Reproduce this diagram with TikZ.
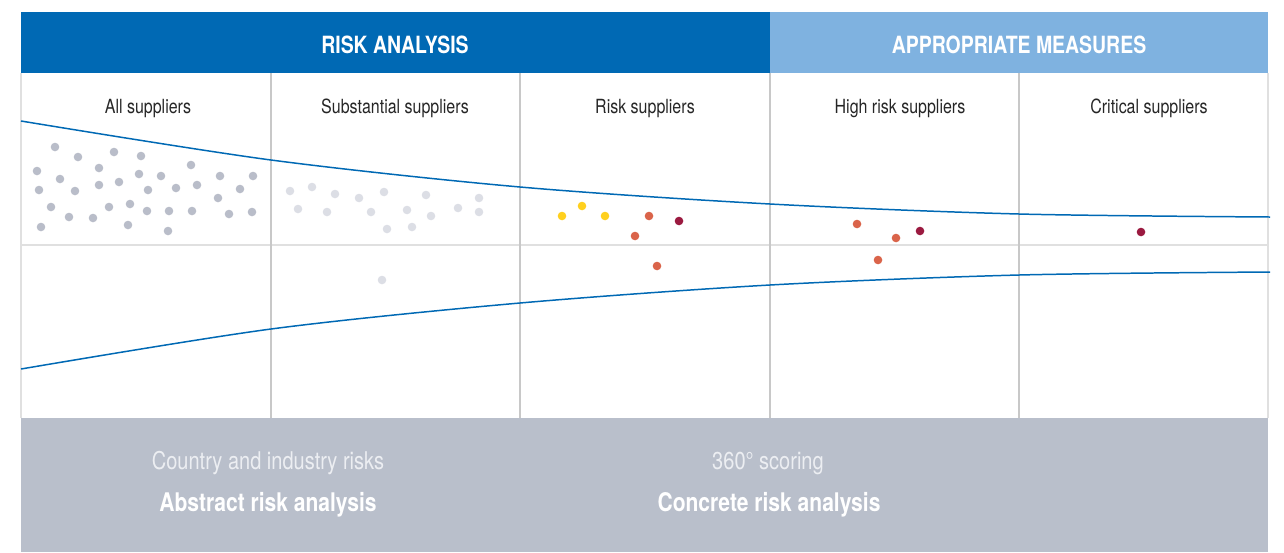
\documentclass[tikz,border=0pt]{standalone}
\usepackage{fontspec}
\setmainfont{TeX Gyre Heros}[FakeStretch=0.82]
\definecolor{darkblue}{RGB}{0,105,180}
\definecolor{lightblue}{RGB}{127,178,224}
\definecolor{bandgrey}{RGB}{185,191,203}
\definecolor{dotgrey}{RGB}{185,189,201}
\definecolor{dotlight}{RGB}{220,222,229}
\definecolor{riskyellow}{RGB}{255,208,30}
\definecolor{riskorange}{RGB}{218,100,74}
\definecolor{riskred}{RGB}{155,26,64}
\definecolor{gridgrey}{RGB}{200,200,200}
\definecolor{gridlight}{RGB}{224,224,224}
\definecolor{softwhite}{RGB}{236,238,242}

\begin{document}
\begin{tikzpicture}[x=0.02cm,y=-0.02cm,
    headtext/.style={anchor=base, font=\bfseries\fontsize{13.5}{16}\selectfont, text=white},
    coltext/.style={anchor=base, font=\fontsize{11.1}{13}\selectfont, text=black!85},
    bandtext/.style={anchor=base, font=\fontsize{13.9}{16}\selectfont, text=softwhite},
    bandbold/.style={anchor=base, font=\bfseries\fontsize{14.6}{17}\selectfont, text=white},
    curve/.style={darkblue, line width=0.85pt}]
    \useasboundingbox (0,0) rectangle (1284,552);

    % Header bars
    \fill[darkblue] (21,12) rectangle (770,73);
    \fill[lightblue] (770,12) rectangle (1268,73);
    \node[headtext] (riskanalysis) at (395,53.5) {RISK ANALYSIS};
    \node[headtext] (measures) at (1019,53.5) {APPROPRIATE MEASURES};

    % Bottom band
    \fill[bandgrey] (21,418) rectangle (1268,552);

    % Outer border and middle line
    \draw[gridlight, line width=0.6pt] (21,73) -- (21,418);
    \draw[gridlight, line width=0.6pt] (1268,73) -- (1268,418);
    \draw[gridlight, line width=0.6pt] (21,245) -- (1268,245);

    % Column dividers
    \foreach \x in {271,520,770,1019}
        \draw[gridgrey, line width=0.6pt] (\x,73) -- (\x,418);

    % Column labels
    \node[coltext] (allsup) at (148,113) {All suppliers};
    \node[coltext] (substsup) at (395,113) {Substantial suppliers};
    \node[coltext] (risksup) at (645,113) {Risk suppliers};
    \node[coltext] (highsup) at (900,113) {High risk suppliers};
    \node[coltext] (critsup) at (1149,113) {Critical suppliers};

    % Funnel curves
    \draw[curve] plot[smooth] coordinates {(21,121) (271,160) (520,187)
        (770,204) (1019,214) (1270,217)};
    \draw[curve] plot[smooth] coordinates {(21,369) (271,329) (520,303)
        (770,285) (1019,275) (1270,272)};

    % Dots, all suppliers
    \foreach \x/\y in {55/147, 78/157, 114/152, 141/156, 37/171, 60/179, 99/168, 139/174,
        161/176, 191/165, 39/190, 75/191, 99/185, 119/182, 148/190, 176/188, 197/185,
        220/176, 253/176, 240/189, 51/207, 69/217, 93/218, 109/207, 130/204, 147/211,
        169/211, 192/211, 218/198, 229/214, 252/212, 41/227, 128/225, 168/231}
        \fill[dotgrey] (\x,\y) circle (2.45pt);

    % Dots, substantial suppliers
    \foreach \x/\y in {290/191, 312/187, 335/194, 359/198, 384/192, 426/195, 479/198,
        298/209, 327/212, 371/212, 407/210, 431/216, 458/208, 479/212, 387/229, 412/227,
        382/280}
        \fill[dotlight] (\x,\y) circle (2.45pt);

    % Dots, risk suppliers and beyond
    \foreach \x/\y in {562/216, 582/206, 605/216}
        \fill[riskyellow] (\x,\y) circle (2.45pt);
    \foreach \x/\y in {649/216, 635/236, 657/266, 857/224, 896/238, 878/260}
        \fill[riskorange] (\x,\y) circle (2.45pt);
    \foreach \x/\y in {679/221, 920/231, 1141/232}
        \fill[riskred] (\x,\y) circle (2.45pt);

    % Band texts
    \node[bandtext] (countryrisk) at (268,469) {Country and industry risks};
    \node[bandbold] (abstract) at (268,511.5) {Abstract risk analysis};
    \node[bandtext] (scoring) at (768,469) {360° scoring};
    \node[bandbold] (concrete) at (769,511.5) {Concrete risk analysis};
\end{tikzpicture}
\end{document}
